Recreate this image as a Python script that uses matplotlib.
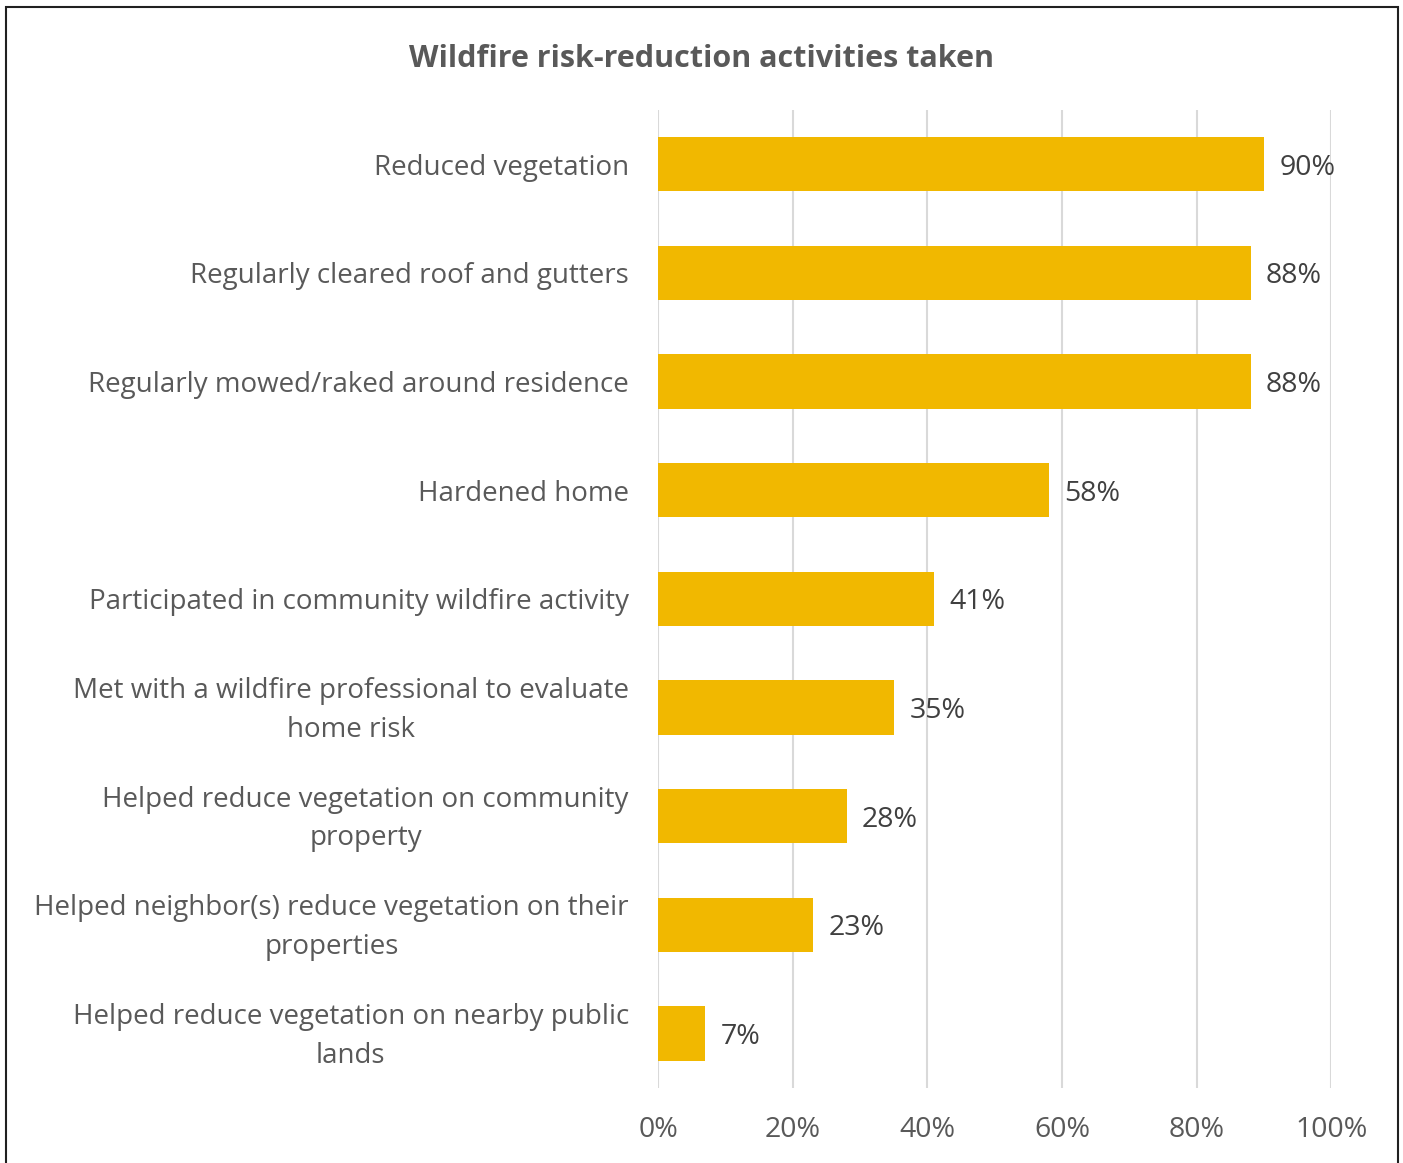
import matplotlib
matplotlib.use("Agg")
import matplotlib.pyplot as plt
import matplotlib.transforms as mtransforms
from matplotlib.patches import Rectangle

# survey results, top to bottom
activities = [
    "Reduced vegetation",
    "Regularly cleared roof and gutters",
    "Regularly mowed/raked around residence",
    "Hardened home",
    "Participated in community wildfire activity",
    "Met with a wildfire professional to evaluate\nhome risk",
    "Helped reduce vegetation on community\nproperty",
    "Helped neighbor(s) reduce vegetation on their\nproperties",
    "Helped reduce vegetation on nearby public\nlands",
]
percent = [90, 88, 88, 58, 41, 35, 28, 23, 7]
xticks = [0, 20, 40, 60, 80, 100]

bar_color = "#F1B800"
text_color = "#595959"
grid_color = "#D9D9D9"

plt.rcParams["font.family"] = ["Open Sans", "DejaVu Sans"]

fig = plt.figure(figsize=(14.03, 11.63), dpi=100)
ax = fig.add_axes([0.469, 0.0645, 0.480, 0.841])

ypos = list(range(len(activities)))
ax.barh(ypos, percent, height=0.5, color=bar_color, zorder=3)

for y, v in zip(ypos, percent):
    ax.text(v + 2.3, y + 0.03, f"{v}%", va="center", ha="left",
            fontsize=20.5, color="#404040")

ax.set_xlim(0, 100)
ax.set_ylim(len(activities) - 0.5, -0.5)
ax.set_xticks(xticks)
ax.set_xticklabels([f"{t}%" for t in xticks])
ax.set_yticks(ypos)
ax.set_yticklabels(activities)

ax.tick_params(axis="y", length=0, pad=21, labelsize=20, labelcolor=text_color)
ax.tick_params(axis="x", length=0, pad=20, labelsize=20.5, labelcolor=text_color)

# two-line labels sit a little low; nudge them up
nudge = mtransforms.ScaledTranslation(0, 6 / 100, fig.dpi_scale_trans)
for lbl in ax.get_yticklabels():
    lbl.set_multialignment("center")
    lbl.set_linespacing(1.5)
    if "\n" in lbl.get_text():
        lbl.set_transform(lbl.get_transform() + nudge)

ax.grid(axis="x", color=grid_color, linewidth=1.5, zorder=0)
for s in ax.spines.values():
    s.set_visible(False)

fig.suptitle("Wildfire risk-reduction activities taken", x=0.5, y=0.962,
             fontsize=22, fontweight="bold", color=text_color)

# outer frame
fig.patches.append(Rectangle((0.0045, -0.01), 0.992, 1.004,
                             transform=fig.transFigure, fill=False,
                             edgecolor="#202020", linewidth=1.5))

fig.savefig("out.png", dpi=100, facecolor="white")
